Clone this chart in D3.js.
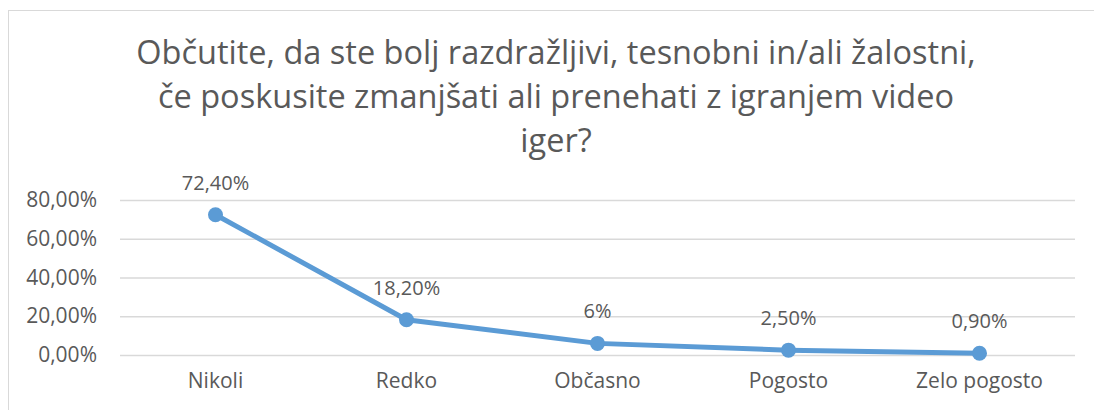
<!DOCTYPE html>
<html>
<head>
<meta charset="utf-8">
<script src="https://cdn.jsdelivr.net/npm/d3@7"></script>
<style>
  html, body { margin: 0; padding: 0; background: #fff; }
  svg { display: block; }
</style>
</head>
<body>
<svg id="chart" width="1094" height="410"></svg>
<script>
const titleLines = [
  "Občutite, da ste bolj razdražljivi, tesnobni in/ali žalostni,",
  "če poskusite zmanjšati ali prenehati z igranjem video",
  "iger?"
];
const categories = ["Nikoli", "Redko", "Občasno", "Pogosto", "Zelo pogosto"];
const values = [72.4, 18.2, 6, 2.5, 0.9];
const valueLabels = ["72,40%", "18,20%", "6%", "2,50%", "0,90%"];
const yTicks = [0, 20, 40, 60, 80];

const svg = d3.select("#chart");
const font = "Open Sans, sans-serif";
const textColor = "#595959";

// chart frame (runs off the right and bottom edges)
svg.append("rect")
  .attr("x", 8.5).attr("y", 10.5)
  .attr("width", 1200).attr("height", 500)
  .attr("fill", "none").attr("stroke", "#d9d9d9").attr("stroke-width", 1);

// title
svg.append("g").selectAll("text").data(titleLines).join("text")
  .attr("x", 556).attr("y", (d, i) => 64 + i * 44)
  .attr("text-anchor", "middle")
  .attr("font-family", font).attr("font-size", 32.5)
  .attr("fill", textColor)
  .text(d => d);

const x = d3.scaleBand().domain(categories).range([120, 1075]);
const y = d3.scaleLinear().domain([0, 80]).range([355, 200]);

// gridlines
svg.append("g").selectAll("line").data(yTicks).join("line")
  .attr("x1", 120).attr("x2", 1075)
  .attr("y1", d => y(d) + 0.5).attr("y2", d => y(d) + 0.5)
  .attr("stroke", "#d9d9d9").attr("stroke-width", 1.3);

// y axis labels
const yAxis = d3.axisLeft(y).tickValues(yTicks).tickSize(0).tickPadding(0)
  .tickFormat(d => d3.format(".2f")(d).replace(".", ",") + "%");
const gy = svg.append("g").attr("transform", "translate(97,0)").call(yAxis);
gy.select(".domain").remove();
gy.selectAll("text").attr("font-family", font).attr("font-size", 21).attr("fill", textColor);

// x axis labels
const xAxis = d3.axisBottom(x).tickSize(0).tickPadding(0);
const gx = svg.append("g").attr("transform", "translate(0,373)").call(xAxis);
gx.select(".domain").remove();
gx.selectAll("text").attr("font-family", font).attr("font-size", 21).attr("fill", textColor);

const cx = d => x(d) + x.bandwidth() / 2;
const pts = categories.map((c, i) => ({ c, v: values[i], label: valueLabels[i] }));

// series line
svg.append("path")
  .datum(pts)
  .attr("d", d3.line().x(d => cx(d.c)).y(d => y(d.v)))
  .attr("fill", "none").attr("stroke", "#5b9bd5").attr("stroke-width", 5)
  .attr("stroke-linejoin", "round").attr("stroke-linecap", "round");

// markers
svg.append("g").selectAll("circle").data(pts).join("circle")
  .attr("cx", d => cx(d.c)).attr("cy", d => y(d.v)).attr("r", 7.5)
  .attr("fill", "#5b9bd5");

// data labels
svg.append("g").selectAll("text").data(pts).join("text")
  .attr("x", d => cx(d.c)).attr("y", d => y(d.v) - 25)
  .attr("text-anchor", "middle")
  .attr("font-family", font).attr("font-size", 20).attr("fill", textColor)
  .text(d => d.label);
</script>
</body>
</html>
